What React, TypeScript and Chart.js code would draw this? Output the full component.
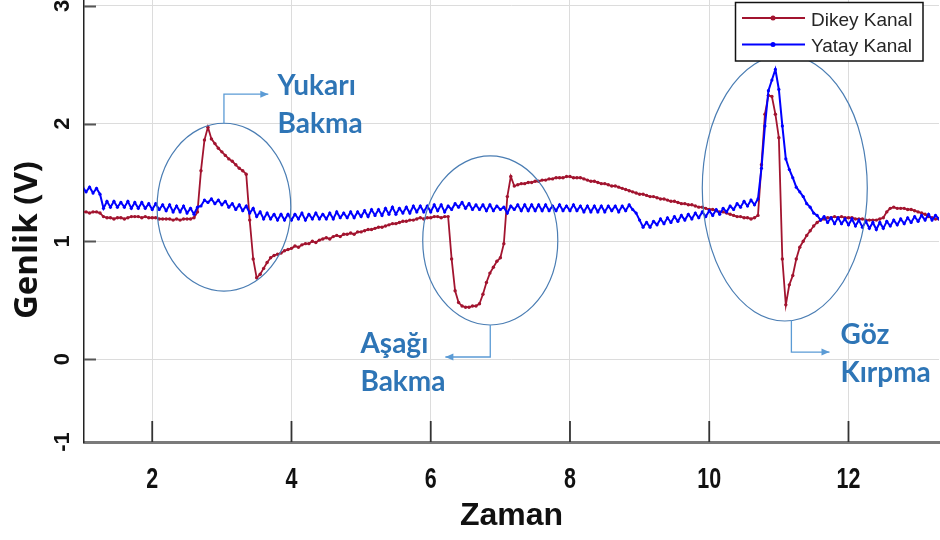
import React, { useEffect, useRef } from 'react';
import { Chart, registerables } from 'chart.js';

Chart.register(...registerables);

// ---- data (time axis sampled every T_STEP starting at T_START) ----
const T_START = 1.0;
const T_STEP = 0.05;

const DIKEY_KANAL = [
  1.25, 1.25, 1.24, 1.25, 1.25, 1.24, 1.21, 1.20, 1.20, 1.19, 1.20, 1.20, 1.19, 1.20, 1.21, 1.21, 1.21, 1.20, 1.21, 1.20,
  1.20, 1.20, 1.19, 1.19, 1.19, 1.19, 1.18, 1.19, 1.18, 1.19, 1.19, 1.19, 1.20, 1.25, 1.60, 1.86, 1.97, 1.87, 1.83, 1.79,
  1.76, 1.73, 1.70, 1.68, 1.65, 1.62, 1.60, 1.57, 1.18, 0.85, 0.69, 0.72, 0.77, 0.82, 0.86, 0.88, 0.89, 0.90, 0.92, 0.93,
  0.94, 0.96, 0.95, 0.97, 0.98, 0.98, 1.00, 0.99, 1.01, 1.02, 1.03, 1.02, 1.04, 1.05, 1.04, 1.06, 1.06, 1.07, 1.06, 1.08,
  1.08, 1.09, 1.10, 1.10, 1.11, 1.12, 1.12, 1.13, 1.14, 1.15, 1.15, 1.16, 1.17, 1.17, 1.18, 1.18, 1.19, 1.20, 1.19, 1.20,
  1.20, 1.21, 1.21, 1.20, 1.21, 1.21, 0.85, 0.58, 0.48, 0.45, 0.44, 0.44, 0.45, 0.45, 0.47, 0.55, 0.65, 0.73, 0.78, 0.83,
  0.86, 0.98, 1.38, 1.55, 1.47, 1.48, 1.49, 1.49, 1.50, 1.50, 1.51, 1.51, 1.52, 1.52, 1.53, 1.53, 1.54, 1.54, 1.54, 1.55,
  1.55, 1.54, 1.54, 1.54, 1.53, 1.52, 1.51, 1.51, 1.50, 1.49, 1.49, 1.48, 1.47, 1.47, 1.46, 1.45, 1.44, 1.43, 1.42, 1.41,
  1.40, 1.40, 1.39, 1.38, 1.38, 1.37, 1.36, 1.36, 1.35, 1.34, 1.34, 1.33, 1.32, 1.32, 1.31, 1.31, 1.30, 1.29, 1.29, 1.28,
  1.27, 1.27, 1.26, 1.25, 1.25, 1.24, 1.23, 1.22, 1.21, 1.21, 1.20, 1.20, 1.19, 1.20, 1.22, 1.65, 2.08, 2.24, 2.23, 2.08,
  1.88, 0.85, 0.46, 0.63, 0.71, 0.85, 0.95, 1.00, 1.05, 1.09, 1.13, 1.16, 1.18, 1.19, 1.20, 1.20, 1.21, 1.20, 1.21, 1.20,
  1.20, 1.20, 1.19, 1.19, 1.19, 1.18, 1.18, 1.18, 1.18, 1.19, 1.20, 1.25, 1.28, 1.29, 1.28, 1.28, 1.28, 1.27, 1.27, 1.26,
  1.25, 1.24, 1.23, 1.21, 1.20, 1.19, 1.19,
];

const YATAY_KANAL = [
  1.46, 1.42, 1.46, 1.41, 1.45, 1.40, 1.28, 1.34, 1.29, 1.34, 1.29, 1.33, 1.29, 1.34, 1.28, 1.33, 1.28, 1.33, 1.28, 1.32,
  1.27, 1.32, 1.27, 1.31, 1.26, 1.31, 1.25, 1.30, 1.25, 1.30, 1.24, 1.28, 1.23, 1.29, 1.30, 1.35, 1.33, 1.36, 1.32, 1.35,
  1.31, 1.34, 1.29, 1.32, 1.27, 1.31, 1.26, 1.30, 1.24, 1.28, 1.21, 1.25, 1.19, 1.24, 1.19, 1.23, 1.18, 1.23, 1.18, 1.23,
  1.18, 1.23, 1.19, 1.24, 1.18, 1.23, 1.19, 1.24, 1.19, 1.23, 1.19, 1.24, 1.19, 1.25, 1.20, 1.24, 1.20, 1.25, 1.20, 1.25,
  1.21, 1.26, 1.21, 1.27, 1.22, 1.27, 1.22, 1.28, 1.23, 1.29, 1.23, 1.28, 1.24, 1.29, 1.24, 1.30, 1.25, 1.30, 1.25, 1.30,
  1.25, 1.31, 1.26, 1.31, 1.25, 1.30, 1.27, 1.32, 1.29, 1.33, 1.28, 1.32, 1.27, 1.31, 1.27, 1.31, 1.26, 1.31, 1.26, 1.30,
  1.27, 1.29, 1.24, 1.30, 1.27, 1.31, 1.26, 1.31, 1.26, 1.31, 1.26, 1.31, 1.26, 1.31, 1.26, 1.30, 1.26, 1.31, 1.26, 1.30,
  1.26, 1.31, 1.26, 1.30, 1.25, 1.30, 1.25, 1.30, 1.25, 1.30, 1.25, 1.30, 1.26, 1.30, 1.25, 1.30, 1.26, 1.31, 1.27, 1.24,
  1.18, 1.12, 1.16, 1.12, 1.17, 1.14, 1.19, 1.15, 1.20, 1.16, 1.21, 1.17, 1.22, 1.18, 1.23, 1.19, 1.24, 1.20, 1.25, 1.21,
  1.26, 1.22, 1.27, 1.23, 1.28, 1.25, 1.30, 1.27, 1.32, 1.29, 1.34, 1.30, 1.35, 1.31, 1.36, 1.62, 1.98, 2.28, 2.37, 2.46,
  2.29, 1.98, 1.70, 1.61, 1.54, 1.46, 1.42, 1.38, 1.32, 1.29, 1.24, 1.22, 1.18, 1.21, 1.16, 1.20, 1.15, 1.20, 1.15, 1.19,
  1.14, 1.19, 1.13, 1.18, 1.12, 1.17, 1.11, 1.16, 1.10, 1.16, 1.11, 1.17, 1.13, 1.18, 1.14, 1.19, 1.15, 1.20, 1.16, 1.21,
  1.17, 1.22, 1.18, 1.23, 1.18, 1.22, 1.19,
];

const SERIES_NAMES = ['Dikey Kanal', 'Yatay Kanal'];
const X_TICKS = [2, 4, 6, 8, 10, 12];
const Y_TICKS = [0, 1, 2, 3];
const Y_TICK_LABELS = ['-1', '0', '1', '2', '3'];
const X_TITLE = 'Zaman';
const Y_TITLE = 'Genlik (V)';

// annotation ellipses (data units) and callout labels
const ELLIPSE_CENTERS_X = [3.03, 6.855, 11.085];
const ELLIPSE_CENTERS_Y = [1.29, 1.007, 1.453];
const ELLIPSE_RADII_X = [0.96, 0.97, 1.185];
const ELLIPSE_RADII_Y = [0.713, 0.718, 1.13];
const CALLOUT_LABELS = [
  ['Yukarı', 'Bakma'],
  ['Aşağı', 'Bakma'],
  ['Göz', 'Kırpma'],
];
const CALLOUT_PATHS = [
  [[3.03, 2.0], [3.03, 2.25], [3.667, 2.25]],
  [[6.855, 0.289], [6.855, 0.017], [6.21, 0.017]],
  [[11.18, 0.33], [11.18, 0.059], [11.727, 0.059]],
];
const CALLOUT_TEXT_X = [3.80, 4.99, 11.885];
const CALLOUT_TEXT_Y = [2.243, 0.051, 0.127];

// ---- styles ----
const RED = '#A2142F';
const BLUE = '#0000FF';
const Y_MIN = -0.705;
const Y_MAX = 3.05;
const X_MIN = 1.02;
const X_MAX = 13.3;
const SANS = "'Liberation Sans', Arial, sans-serif";

const toPoints = (vals: number[]) =>
  vals.map((v, i) => ({ x: Math.round((T_START + i * T_STEP) * 100) / 100, y: v }));

const overlayPlugin = {
  id: 'overlay',
  afterDraw(chart: any) {
    const { ctx, chartArea } = chart;
    const xs = chart.scales.x;
    const ys = chart.scales.y;
    const px = (v: number) => xs.getPixelForValue(v);
    const py = (v: number) => ys.getPixelForValue(v);
    ctx.save();

    // inward tick marks
    ctx.strokeStyle = '#555';
    ctx.lineWidth = 2;
    Y_TICKS.forEach((v) => {
      const yy = Math.round(py(v)) + 0.5;
      ctx.beginPath();
      ctx.moveTo(chartArea.left, yy);
      ctx.lineTo(chartArea.left + 12, yy);
      ctx.stroke();
    });
    ctx.strokeStyle = '#333';
    ctx.lineWidth = 1.8;
    X_TICKS.forEach((v) => {
      const xx = px(v);
      ctx.beginPath();
      ctx.moveTo(xx, chartArea.bottom);
      ctx.lineTo(xx, chartArea.bottom - 21);
      ctx.stroke();
    });

    // x tick labels (tall, condensed bold digits)
    ctx.fillStyle = '#111';
    ctx.font = `bold 29px ${SANS}`;
    ctx.textAlign = 'center';
    ctx.textBaseline = 'alphabetic';
    X_TICKS.forEach((v) => {
      ctx.save();
      ctx.translate(px(v), chartArea.bottom + 46);
      ctx.scale(0.74, 1);
      ctx.fillText(String(v), 0, 0);
      ctx.restore();
    });

    // ellipses
    ctx.strokeStyle = '#4A7DB3';
    ctx.lineWidth = 1.2;
    ELLIPSE_CENTERS_X.forEach((cxv, i) => {
      const cx = px(cxv);
      const cy = py(ELLIPSE_CENTERS_Y[i]);
      const rx = px(cxv + ELLIPSE_RADII_X[i]) - cx;
      const ry = cy - py(ELLIPSE_CENTERS_Y[i] + ELLIPSE_RADII_Y[i]);
      ctx.beginPath();
      ctx.ellipse(cx, cy, rx, ry, 0, 0, Math.PI * 2);
      ctx.stroke();
    });

    // callouts
    ctx.strokeStyle = '#5B9BD5';
    ctx.fillStyle = '#5B9BD5';
    ctx.lineWidth = 1.3;
    CALLOUT_PATHS.forEach((path) => {
      const pts = path.map(([a, b]) => [px(a), py(b)]);
      ctx.beginPath();
      pts.forEach(([a, b], j) => (j === 0 ? ctx.moveTo(a, b) : ctx.lineTo(a, b)));
      ctx.stroke();
      const [x1, y1] = pts[pts.length - 2];
      const [x2, y2] = pts[pts.length - 1];
      const ang = Math.atan2(y2 - y1, x2 - x1);
      const L = 8;
      const W = 3.5;
      ctx.beginPath();
      ctx.moveTo(x2, y2);
      ctx.lineTo(x2 - L * Math.cos(ang) + W * Math.sin(ang), y2 - L * Math.sin(ang) - W * Math.cos(ang));
      ctx.lineTo(x2 - L * Math.cos(ang) - W * Math.sin(ang), y2 - L * Math.sin(ang) + W * Math.cos(ang));
      ctx.closePath();
      ctx.fill();
    });
    ctx.fillStyle = '#2E75B6';
    ctx.font = "bold 28px Lato, 'Open Sans', sans-serif";
    ctx.textAlign = 'left';
    ctx.textBaseline = 'alphabetic';
    CALLOUT_LABELS.forEach((lines, i) => {
      const tx = px(CALLOUT_TEXT_X[i]);
      const ty = py(CALLOUT_TEXT_Y[i]);
      lines.forEach((t, j) => ctx.fillText(t, tx, ty + j * 38));
    });

    // legend box
    const lx = chartArea.right - 204;
    const ly = chartArea.top + 2;
    ctx.fillStyle = '#ffffff';
    ctx.fillRect(lx, ly, 188, 59);
    ctx.strokeStyle = '#111';
    ctx.lineWidth = 1.5;
    ctx.strokeRect(lx + 0.5, ly + 0.5, 187.5, 58.5);
    const ds = chart.data.datasets;
    [0, 1].forEach((k) => {
      const d = ds.find((q: any) => q.label === SERIES_NAMES[k]);
      const yy = ly + 16 + k * 26.5;
      ctx.strokeStyle = d.borderColor;
      ctx.lineWidth = 1.8;
      ctx.beginPath();
      ctx.moveTo(lx + 7, yy);
      ctx.lineTo(lx + 70, yy);
      ctx.stroke();
      ctx.fillStyle = d.borderColor;
      ctx.beginPath();
      ctx.arc(lx + 38, yy, 2.5, 0, Math.PI * 2);
      ctx.fill();
      ctx.fillStyle = '#262626';
      ctx.font = `19px ${SANS}`;
      ctx.textAlign = 'left';
      ctx.textBaseline = 'middle';
      ctx.fillText(SERIES_NAMES[k], lx + 76, yy + 2.5);
    });

    // y-axis title
    ctx.save();
    ctx.translate(28, 240);
    ctx.rotate(-Math.PI / 2);
    ctx.textAlign = 'center';
    ctx.textBaseline = 'middle';
    ctx.fillStyle = '#111';
    ctx.font = "bold 33px 'Open Sans', sans-serif";
    ctx.fillText(Y_TITLE, 0, 0);
    ctx.restore();

    ctx.restore();
  },
};

export default function App() {
  const ref = useRef<HTMLCanvasElement | null>(null);

  useEffect(() => {
    if (!ref.current) return;
    const chart = new Chart(ref.current, {
      type: 'line',
      data: {
        datasets: [
          {
            label: SERIES_NAMES[0],
            data: toPoints(DIKEY_KANAL),
            borderColor: RED,
            backgroundColor: RED,
            pointBackgroundColor: RED,
            borderWidth: 1.8,
            pointRadius: 1.7,
            pointBorderWidth: 0,
            tension: 0,
            order: 2,
          },
          {
            label: SERIES_NAMES[1],
            data: toPoints(YATAY_KANAL),
            borderColor: BLUE,
            backgroundColor: BLUE,
            pointBackgroundColor: BLUE,
            borderWidth: 2,
            pointRadius: 1.6,
            pointBorderWidth: 0,
            tension: 0,
            order: 1,
          },
        ],
      },
      options: {
        responsive: false,
        animation: false,
        devicePixelRatio: 1,
        layout: { autoPadding: false, padding: { left: 0, right: 1, top: 0, bottom: 0 } },
        plugins: { legend: { display: false }, tooltip: { enabled: false } },
        scales: {
          x: {
            type: 'linear',
            min: X_MIN,
            max: X_MAX,
            afterBuildTicks: (s: any) => {
              s.ticks = X_TICKS.map((v) => ({ value: v }));
            },
            afterFit: (s: any) => {
              s.height = 98;
              s.paddingLeft = 0;
              s.paddingRight = 0;
            },
            grid: { color: '#dcdcdc', lineWidth: 1, drawTicks: false },
            border: { display: true, color: '#7a7a7a', width: 3 },
            ticks: { display: false, autoSkip: false, maxRotation: 0 },
            title: {
              display: true,
              text: X_TITLE,
              color: '#111',
              font: { family: SANS, size: 32, weight: 'bold' },
              padding: { top: 0, bottom: 5 },
            },
          },
          y: {
            type: 'linear',
            min: Y_MIN,
            max: Y_MAX,
            afterBuildTicks: (s: any) => {
              s.ticks = [Y_MIN, ...Y_TICKS].map((v) => ({ value: v }));
            },
            afterFit: (s: any) => {
              s.width = 84;
              s.paddingTop = 0;
              s.paddingBottom = 0;
            },
            grid: { color: '#dcdcdc', lineWidth: 1, drawTicks: false },
            border: { display: true, color: '#222', width: 1.5 },
            ticks: {
              minRotation: 90,
              maxRotation: 90,
              crossAlign: 'center',
              padding: 11,
              color: '#111',
              font: { family: SANS, size: 22, weight: 'bold' },
              callback: (_v: any, i: number) => Y_TICK_LABELS[i],
            },
          },
        },
      },
      plugins: [overlayPlugin],
    } as any);
    return () => chart.destroy();
  }, []);

  return (
    <div style={{ position: 'fixed', left: 0, top: 0, width: 940, height: 540, background: '#fff' }}>
      <canvas ref={ref} width={940} height={540} style={{ display: 'block' }} />
    </div>
  );
}
